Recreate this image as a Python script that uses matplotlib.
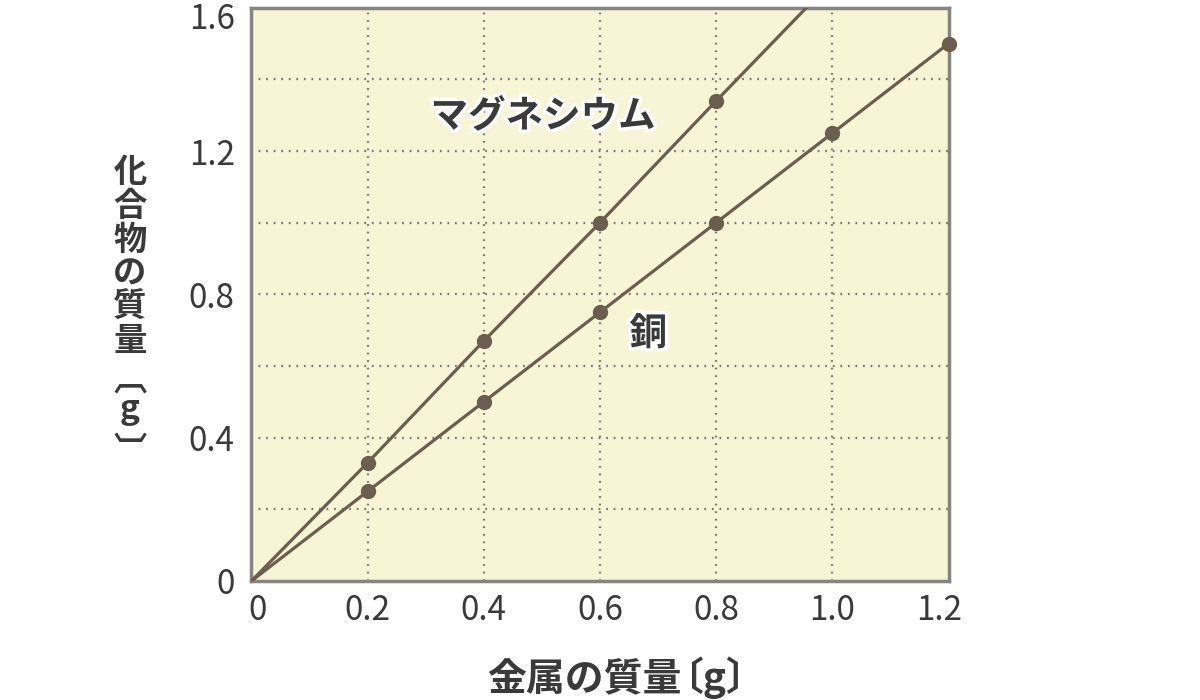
import numpy as np
import matplotlib
matplotlib.use("Agg")
import matplotlib.pyplot as plt
import matplotlib.patheffects as pe
import matplotlib.transforms as mtransforms

plt.rcParams['font.family'] = ['Noto Sans CJK JP', 'DejaVu Sans']

# data
metal = [0.2, 0.4, 0.6, 0.8, 1.0, 1.2]
copper = [0.25, 0.50, 0.75, 1.00, 1.25, 1.50]
mg_metal = [0.2, 0.4, 0.6, 0.8]
magnesium = [0.33, 0.67, 1.00, 1.34]

xticks = [0, 0.2, 0.4, 0.6, 0.8, 1.0, 1.2]
xticklabels = ["0", "0.2", "0.4", "0.6", "0.8", "1.0", "1.2"]
yticks = [0, 0.4, 0.8, 1.2, 1.6]
yticklabels = ["0", "0.4", "0.8", "1.2", "1.6"]

line_col = "#6b5e4e"
bg = "#f8f4d6"
spine_col = "#858585"
text_col = "#3a3a3a"

fig = plt.figure(figsize=(12, 7), dpi=100)
ax = fig.add_axes([0.2095, 0.170, 0.581, 0.819])
ax.set_facecolor(bg)
ax.set_xlim(0, 1.2)
ax.set_ylim(0, 1.6)

# dotted grid every 0.2
for g in np.arange(0.2, 1.2, 0.2):
    ax.axvline(g, color="#777777", lw=1.6, ls=(0, (0.8, 2.6)), zorder=1)
for g in np.arange(0.2, 1.6, 0.2):
    ax.axhline(g, color="#777777", lw=1.6, ls=(0, (0.8, 2.6)), zorder=1)

# lines through origin, extended with the slope of the data
cu_x = [0] + metal
cu_y = [0] + copper
ax.plot(cu_x, cu_y, color=line_col, lw=2.3, zorder=3)

mg_slope = magnesium[-1] / mg_metal[-1]
mg_x = [0] + mg_metal + [1.2]
mg_y = [0] + magnesium + [1.2 * mg_slope]
ax.plot(mg_x, mg_y, color=line_col, lw=2.3, zorder=3)

ax.plot(metal, copper, 'o', color=line_col, ms=10, zorder=4, clip_on=False)
ax.plot(mg_metal, magnesium, 'o', color=line_col, ms=10, zorder=4, clip_on=False)

stroke = [pe.withStroke(linewidth=5, foreground="white")]
ax.text(0.502, 1.298, "マグネシウム", fontsize=27, fontweight="bold", color=text_col,
        ha="center", va="center", path_effects=stroke, zorder=5)
ax.text(0.683, 0.691, "銅", fontsize=27, fontweight="bold", color=text_col,
        ha="center", va="center", path_effects=stroke, zorder=5)

ax.set_xticks(xticks)
ax.set_xticklabels(xticklabels)
ax.set_yticks(yticks)
ax.set_yticklabels(yticklabels)
ax.tick_params(length=0, labelsize=24, labelcolor=text_col)
ax.tick_params(axis='x', pad=9)
ax.tick_params(axis='y', pad=12)

# nudge edge labels inward like the original
def nudge(lbl, dx, dy):
    lbl.set_transform(lbl.get_transform() +
                      mtransforms.ScaledTranslation(dx / 100, dy / 100, fig.dpi_scale_trans))

xl = ax.get_xticklabels()
nudge(xl[0], 6, 0)
nudge(xl[-1], -9, 0)
yl = ax.get_yticklabels()
nudge(yl[-1], 0, -8)

for s in ax.spines.values():
    s.set_color(spine_col)
    s.set_linewidth(2.5)
    s.set_zorder(2)

# x label: tighten the brackets
fig.text(487 / 1200, 0.014, "金属の質量", fontsize=28, fontweight="bold", color=text_col,
         ha="left", va="baseline")
fig.text(664 / 1200, 0.014, "〔g〕", fontsize=28, fontweight="bold", color=text_col,
         ha="left", va="baseline")

# y label, stacked vertically
ylx = 130 / 1200
fig.text(ylx, 1 - 257 / 700, "\n".join("化合物の質量"), fontsize=24, fontweight="bold",
         color=text_col, ha="center", va="center", linespacing=1.03)
fig.text(ylx, 1 - 380 / 700, "︹", fontsize=24, fontweight="bold",
         color=text_col, ha="center", va="center")
fig.text(ylx, 1 - 410 / 700, "g", fontsize=24, fontweight="bold",
         color=text_col, ha="center", va="center")
fig.text(ylx, 1 - 452 / 700, "︺", fontsize=24, fontweight="bold",
         color=text_col, ha="center", va="center")

fig.savefig("out.png", dpi=100)
